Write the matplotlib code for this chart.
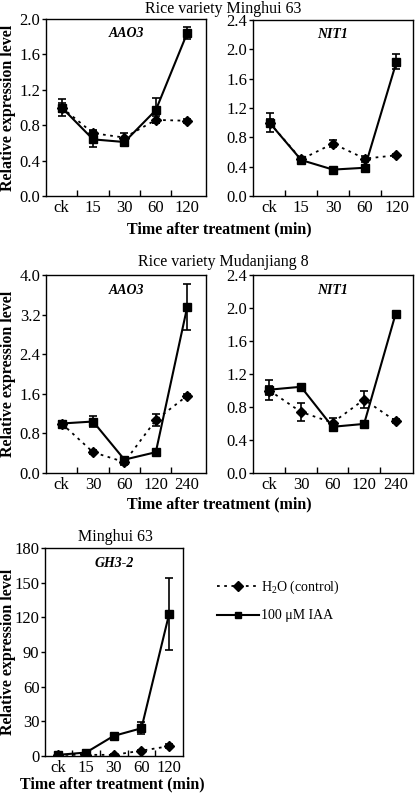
import matplotlib
matplotlib.use("Agg")
import matplotlib.pyplot as plt
from matplotlib.lines import Line2D

plt.rcParams["font.family"] = ["Liberation Serif", "DejaVu Serif"]
plt.rcParams["mathtext.fontset"] = "custom"
plt.rcParams["mathtext.rm"] = "Liberation Serif"

# ---- data ----
cats_mh = ["ck", "15", "30", "60", "120"]
cats_md = ["ck", "30", "60", "120", "240"]

# Minghui 63, AAO3
mh_aao3_iaa = [1.00, 0.64, 0.61, 0.97, 1.84]
mh_aao3_iaa_err = [0.10, 0.09, 0.05, 0.14, 0.07]
mh_aao3_h2o = [1.00, 0.71, 0.66, 0.86, 0.85]
mh_aao3_h2o_err = [0.05, 0.04, 0.05, 0.04, 0.02]

# Minghui 63, NIT1
mh_nit1_iaa = [1.00, 0.49, 0.36, 0.385, 1.83]
mh_nit1_iaa_err = [0.13, 0.03, 0.02, 0.03, 0.10]
mh_nit1_h2o = [1.00, 0.50, 0.715, 0.51, 0.555]
mh_nit1_h2o_err = [0.05, 0.02, 0.05, 0.04, 0.02]

# Mudanjiang 8, AAO3
md_aao3_iaa = [1.00, 1.04, 0.27, 0.42, 3.35]
md_aao3_iaa_err = [0.05, 0.12, 0.05, 0.04, 0.46]
md_aao3_h2o = [1.00, 0.42, 0.22, 1.07, 1.56]
md_aao3_h2o_err = [0.04, 0.04, 0.05, 0.13, 0.04]

# Mudanjiang 8, NIT1
md_nit1_iaa = [1.01, 1.045, 0.56, 0.595, 1.93]
md_nit1_iaa_err = [0.12, 0.02, 0.03, 0.03, 0.02]
md_nit1_h2o = [1.00, 0.74, 0.61, 0.89, 0.63]
md_nit1_h2o_err = [0.05, 0.11, 0.06, 0.10, 0.02]

# Minghui 63, GH3-2
gh3_iaa = [1.0, 3.0, 17.4, 24.0, 123.0]
gh3_iaa_err = [1.0, 1.0, 2.0, 5.0, 31.0]
gh3_h2o = [1.0, 1.0, 1.0, 4.6, 8.5]
gh3_h2o_err = [0.5, 0.5, 0.5, 1.0, 2.0]

W, H = 415, 794
fig = plt.figure(figsize=(W / 100, H / 100), dpi=100)


def px_axes(l, t, r, b):
    return fig.add_axes([l / W, 1 - b / H, (r - l) / W, (b - t) / H])


def panel(ax, cats, iaa, iaa_err, h2o, h2o_err, ymax, ystep, gene, xlim, yfmt):
    x = list(range(len(cats)))
    ax.errorbar(x, h2o, yerr=h2o_err, color="black", linestyle=(0, (1.5, 2.5)),
                lw=1.3, marker="D", ms=5.5, capsize=3, elinewidth=1.2, capthick=1.2)
    ax.errorbar(x, iaa, yerr=iaa_err, color="black", linestyle="-",
                lw=1.5, marker="s", ms=6, capsize=3, elinewidth=1.2, capthick=1.2)
    ax.set_xlim(*xlim)
    ax.set_ylim(0, ymax)
    ticks = [i * ystep for i in range(int(round(ymax / ystep)) + 1)]
    ax.set_yticks(ticks)
    ax.set_yticklabels([yfmt.format(t) for t in ticks])
    ax.set_xticks(x)
    ax.set_xticklabels(cats)
    ax.set_xticks([i + 0.5 for i in x[:-1]], minor=True)
    ax.tick_params(axis="x", which="major", length=0, labelsize=12, pad=3)
    ax.tick_params(axis="x", which="minor", direction="in", length=4, width=1)
    ax.tick_params(axis="y", direction="out", length=3, width=1, labelsize=12, pad=1)
    for s in ax.spines.values():
        s.set_linewidth(1.0)
    ax.text(0.5, 0.955, gene, transform=ax.transAxes, ha="center", va="top",
            fontsize=10, fontweight="bold", fontstyle="italic")


ax1 = px_axes(46, 19, 206, 196)
panel(ax1, cats_mh, mh_aao3_iaa, mh_aao3_iaa_err, mh_aao3_h2o, mh_aao3_h2o_err,
      2.0, 0.4, "AAO3", (-0.5, 4.6), "{:.1f}")
ax2 = px_axes(253, 20, 413, 196)
panel(ax2, cats_mh, mh_nit1_iaa, mh_nit1_iaa_err, mh_nit1_h2o, mh_nit1_h2o_err,
      2.4, 0.4, "NIT1", (-0.52, 4.52), "{:.1f}")
ax3 = px_axes(46, 275, 206, 473)
panel(ax3, cats_md, md_aao3_iaa, md_aao3_iaa_err, md_aao3_h2o, md_aao3_h2o_err,
      4.0, 0.8, "AAO3", (-0.5, 4.6), "{:.1f}")
ax4 = px_axes(253, 275, 413, 473)
panel(ax4, cats_md, md_nit1_iaa, md_nit1_iaa_err, md_nit1_h2o, md_nit1_h2o_err,
      2.4, 0.4, "NIT1", (-0.52, 4.55), "{:.1f}")
ax5 = px_axes(45, 548, 183, 756)
panel(ax5, cats_mh, gh3_iaa, gh3_iaa_err, gh3_h2o, gh3_h2o_err,
      180, 30, "GH3-2", (-0.48, 4.5), "{:.0f}")

ylab = "Relative expression level"
for ax, l in ((ax1, 46), (ax3, 46), (ax5, 45)):
    ax.set_ylabel(ylab, fontsize=11.5, fontweight="bold")
    ax.yaxis.set_label_coords(-(l - 16) / (ax.get_position().width * W), 0.5)

fig.text(223 / W, 1 - 1 / H, "Rice variety Minghui 63", ha="center", va="top", fontsize=11.5)
fig.text(223 / W, 1 - 254 / H, "Rice variety Mudanjiang 8", ha="center", va="top", fontsize=11.5)
fig.text(115 / W, 1 - 537 / H, "Minghui 63", ha="center", va="center", fontsize=11.5)

xlab = "Time after treatment (min)"
fig.text(219 / W, 1 - 229 / H, xlab, ha="center", va="center", fontsize=11.5, fontweight="bold")
fig.text(219 / W, 1 - 504 / H, xlab, ha="center", va="center", fontsize=11.5, fontweight="bold")
fig.text(112 / W, 1 - 784 / H, xlab, ha="center", va="center", fontsize=11.5, fontweight="bold")

handles = [
    Line2D([], [], color="black", linestyle=(0, (1.5, 2.5)), lw=1.3, marker="D", ms=5),
    Line2D([], [], color="black", linestyle="-", lw=1.5, marker="s", ms=5),
]
labels = ["H$_2$O (control)", "100 \u03bcM IAA"]
fig.legend(handles, labels, loc="upper left", bbox_to_anchor=(210 / W, 1 - 572 / H),
           frameon=False, fontsize=10, handlelength=3.0, handletextpad=0.2,
           labelspacing=0.95, borderpad=0)

fig.savefig("out.png", dpi=100)
